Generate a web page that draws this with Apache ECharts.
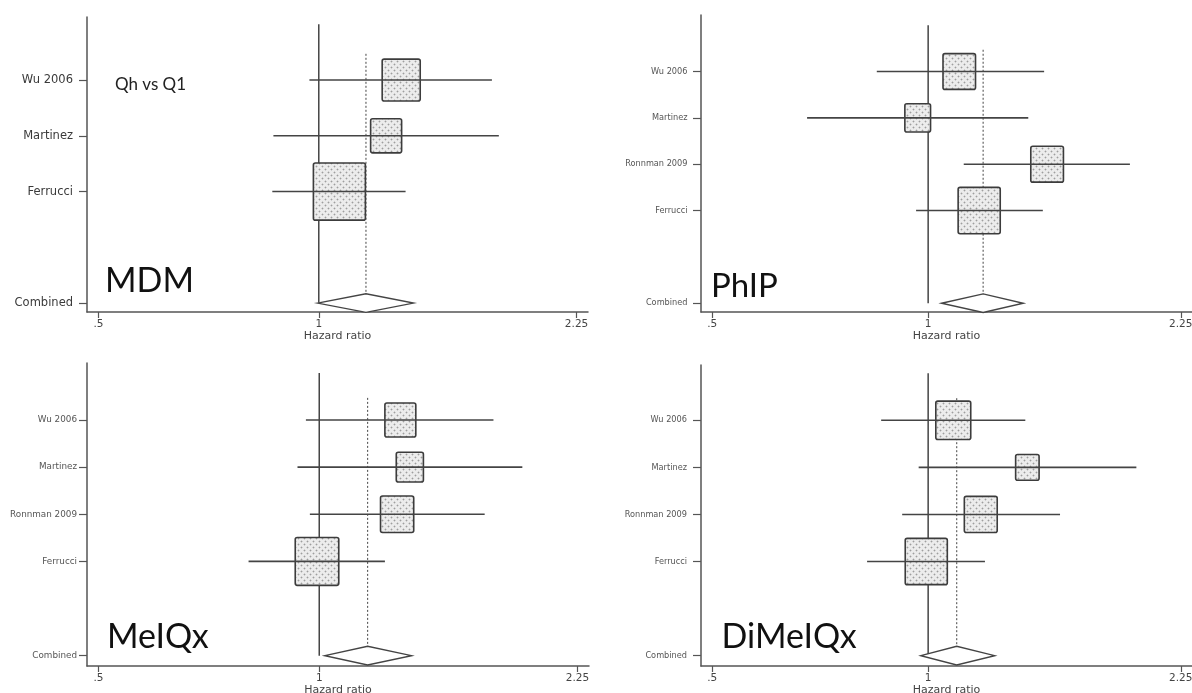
<!DOCTYPE html>
<html>
<head>
<meta charset="utf-8">
<script src="https://cdn.jsdelivr.net/npm/echarts@6/dist/echarts.min.js"></script>
<style>
  html, body { margin: 0; padding: 0; background: #fff; }
  #chart { width: 1192px; height: 693px; }
</style>
</head>
<body>
<div id="chart"></div>
<script>
// Hazard-ratio axis ticks
const hrTicks = [0.5, 1, 2.25];
const hrTickLabels = ['.5', '1', '2.25'];
const axisTitle = 'Hazard ratio';
const subtitle = 'Qh vs Q1';
const combinedLabel = 'Combined';

// MDM
const mdmStudies = ['Wu 2006', 'Martinez', 'Ferrucci'];
const mdmHR = [1.296, 1.236, 1.067];
const mdmLower = [0.971, 0.867, 0.864];
const mdmUpper = [1.724, 1.762, 1.314];
const mdmWeight = [28.3, 18.8, 52.9];
const mdmCombined = [1.160, 0.996, 1.347]; // estimate, lower, upper

// PhIP
const phipStudies = ['Wu 2006', 'Martinez', 'Ronnman 2009', 'Ferrucci'];
const phipHR = [1.105, 0.967, 1.465, 1.178];
const phipLower = [0.848, 0.678, 1.121, 0.962];
const phipUpper = [1.451, 1.379, 1.911, 1.445];
const phipWeight = [23.2, 14.5, 23.4, 38.9];
const phipCombined = [1.193, 1.044, 1.357];

// MeIQx
const meiqxStudies = ['Wu 2006', 'Martinez', 'Ronnman 2009', 'Ferrucci'];
const meiqxHR = [1.290, 1.329, 1.277, 0.993];
const meiqxLower = [0.959, 0.934, 0.971, 0.801];
const meiqxUpper = [1.728, 1.892, 1.681, 1.229];
const meiqxWeight = [20.4, 15.7, 23.5, 40.4];
const meiqxCombined = [1.164, 1.018, 1.336];

// DiMeIQx
const dimeiqxStudies = ['Wu 2006', 'Martinez', 'Ronnman 2009', 'Ferrucci'];
const dimeiqxHR = [1.084, 1.375, 1.184, 0.994];
const dimeiqxLower = [0.860, 0.970, 0.920, 0.822];
const dimeiqxUpper = [1.366, 1.951, 1.527, 1.200];
const dimeiqxWeight = [26.4, 11.9, 23.4, 38.3];
const dimeiqxCombined = [1.096, 0.977, 1.238];

const panelTitles = ['MDM', 'PhIP', 'MeIQx', 'DiMeIQx'];

const panels = [
  { studies: mdmStudies, hr: mdmHR, lo: mdmLower, hi: mdmUpper, w: mdmWeight, comb: mdmCombined },
  { studies: phipStudies, hr: phipHR, lo: phipLower, hi: phipUpper, w: phipWeight, comb: phipCombined },
  { studies: meiqxStudies, hr: meiqxHR, lo: meiqxLower, hi: meiqxUpper, w: meiqxWeight, comb: meiqxCombined },
  { studies: dimeiqxStudies, hr: dimeiqxHR, lo: dimeiqxLower, hi: dimeiqxUpper, w: dimeiqxWeight, comb: dimeiqxCombined }
];

// ---- layout and style ----
const grids = [
  { left: 87, top: 17, width: 501, height: 295 },
  { left: 701, top: 15, width: 491, height: 297 },
  { left: 87, top: 363, width: 502, height: 303 },
  { left: 701, top: 365, width: 491, height: 301 }
];
const yRanges = [[-0.16, 5.13], [-0.19, 6.22], [-0.22, 6.21], [-0.22, 6.175]];
const boxScale = [7.15, 6.75, 6.85, 6.8];
const rowFont = [11.5, 8.2, 8.8, 8.2];
const rowMargin = [14, 13.5, 10, 14];
const titlePos = [[105, 281.5, 34], [711, 286.5, 33], [107, 637, 34], [721.5, 637.5, 34]];

const ln = Math.log;
const xMin = ln(0.5) - 0.036;
const xMax = ln(2.25) + 0.036;
const lineColor = '#444';
const axisColor = '#555';

function dotPattern() {
  const c = document.createElement('canvas');
  c.width = 6; c.height = 6;
  const g = c.getContext('2d');
  g.fillStyle = '#ececec';
  g.fillRect(0, 0, 6, 6);
  g.fillStyle = '#d0d0d0';
  g.fillRect(0, 1, 1, 1); g.fillRect(2, 1, 1, 1); g.fillRect(1, 0, 1, 1); g.fillRect(1, 2, 1, 1);
  g.fillRect(3, 4, 1, 1); g.fillRect(5, 4, 1, 1); g.fillRect(4, 3, 1, 1); g.fillRect(4, 5, 1, 1);
  g.fillStyle = '#9e9e9e';
  g.fillRect(1, 1, 1, 1);
  g.fillRect(4, 4, 1, 1);
  return c;
}
const boxFill = { image: dotPattern(), repeat: 'repeat' };

const lnTicks = hrTicks.map(ln);
function hrLabel(v) {
  let best = 0;
  lnTicks.forEach((t, i) => { if (Math.abs(t - v) < Math.abs(lnTicks[best] - v)) best = i; });
  return hrTickLabels[best];
}

const option = {
  animation: false,
  backgroundColor: '#fff',
  grid: [],
  xAxis: [],
  yAxis: [],
  series: [],
  graphic: []
};

panels.forEach((p, k) => {
  const n = p.studies.length;
  const rowY = p.studies.map((_, i) => n + 1 - i);
  const names = {};
  rowY.forEach((y, i) => { names[y] = p.studies[i]; });
  names[0] = combinedLabel;
  const yTicks = rowY.concat([0]);
  const [yMin, yMax] = yRanges[k];

  option.grid.push(Object.assign({ containLabel: false, outerBoundsMode: 'none' }, grids[k]));

  option.xAxis.push({
    gridIndex: k,
    type: 'value',
    min: xMin,
    max: xMax,
    splitLine: { show: false },
    axisLine: { show: true, onZero: false, lineStyle: { color: axisColor, width: 1.5 } },
    axisTick: { show: true, customValues: lnTicks, length: 6, lineStyle: { color: axisColor, width: 1.2 } },
    axisLabel: {
      customValues: lnTicks,
      formatter: v => hrLabel(v),
      margin: 7,
      color: '#444',
      fontFamily: 'DejaVu Sans',
      fontSize: 10.5
    },
    name: axisTitle,
    nameLocation: 'middle',
    nameGap: 16,
    nameTextStyle: { color: '#444', fontFamily: 'DejaVu Sans', fontSize: 11 }
  });

  option.yAxis.push({
    gridIndex: k,
    type: 'value',
    min: yMin,
    max: yMax,
    splitLine: { show: false },
    axisLine: { show: true, onZero: false, lineStyle: { color: axisColor, width: 1.5 } },
    axisTick: { show: true, customValues: yTicks, length: 8, lineStyle: { color: axisColor, width: 1.2 } },
    axisLabel: {
      customValues: yTicks,
      formatter: v => names[Math.round(v)] || '',
      margin: rowMargin[k],
      color: k === 0 ? '#3a3a3a' : '#555',
      fontFamily: 'DejaVu Sans',
      fontSize: rowFont[k]
    }
  });

  const lnC = ln(p.comb[0]);

  // null line at HR = 1
  option.series.push({
    type: 'line', xAxisIndex: k, yAxisIndex: k, silent: true, z: 1,
    symbol: 'none',
    data: [[0, n + 2], [0, 0]],
    lineStyle: { color: lineColor, width: 1.5 }
  });
  // dotted line at the combined estimate
  option.series.push({
    type: 'line', xAxisIndex: k, yAxisIndex: k, silent: true, z: 1,
    symbol: 'none',
    data: [[lnC, n + 1.47], [lnC, yMin]],
    lineStyle: { color: '#555', width: 1.1, type: [2, 2] }
  });

  // weighted study boxes
  option.series.push({
    type: 'custom', xAxisIndex: k, yAxisIndex: k, silent: true, z: 2,
    data: p.hr.map((h, i) => [ln(h), rowY[i], p.w[i]]),
    encode: { x: 0, y: 1 },
    renderItem: (params, api) => {
      const c = api.coord([api.value(0), api.value(1)]);
      const s = boxScale[k] * Math.sqrt(api.value(2));
      const h = s * 1.1;
      return {
        type: 'rect',
        shape: { x: c[0] - s / 2, y: c[1] - h / 2, width: s, height: h, r: 2 },
        style: { fill: boxFill, stroke: '#3c3c3c', lineWidth: 1.6 }
      };
    }
  });

  // confidence intervals
  option.series.push({
    type: 'custom', xAxisIndex: k, yAxisIndex: k, silent: true, z: 3,
    data: p.lo.map((l, i) => [ln(l), ln(p.hi[i]), rowY[i]]),
    encode: { x: [0, 1], y: 2 },
    renderItem: (params, api) => {
      const a = api.coord([api.value(0), api.value(2)]);
      const b = api.coord([api.value(1), api.value(2)]);
      return {
        type: 'line',
        shape: { x1: a[0], y1: a[1], x2: b[0], y2: b[1] },
        style: { stroke: lineColor, lineWidth: 1.6 }
      };
    }
  });

  // pooled estimate diamond
  option.series.push({
    type: 'custom', xAxisIndex: k, yAxisIndex: k, silent: true, z: 3,
    data: [[lnC, ln(p.comb[1]), ln(p.comb[2]), 0]],
    encode: { x: [0, 1, 2], y: 3 },
    renderItem: (params, api) => {
      const m = api.coord([api.value(0), api.value(3)]);
      const l = api.coord([api.value(1), api.value(3)]);
      const r = api.coord([api.value(2), api.value(3)]);
      const hh = 9.3;
      return {
        type: 'polygon',
        shape: { points: [[l[0], m[1]], [m[0], m[1] - hh], [r[0], m[1]], [m[0], m[1] + hh]] },
        style: { fill: '#fff', stroke: '#444', lineWidth: 1.4 }
      };
    }
  });

  option.graphic.push({
    type: 'text', x: titlePos[k][0], y: titlePos[k][1], silent: true, z: 10,
    style: {
      text: panelTitles[k], fill: '#111',
      font: titlePos[k][2] + 'px Lato', align: 'left', verticalAlign: 'middle'
    }
  });
});

option.graphic.push({
  type: 'text', x: 115, y: 85, silent: true, z: 10,
  style: { text: subtitle, fill: '#222', font: '17px Lato', align: 'left', verticalAlign: 'middle' }
});

const chart = echarts.init(document.getElementById('chart'), null, { renderer: 'canvas' });
chart.setOption(option);
</script>
</body>
</html>
